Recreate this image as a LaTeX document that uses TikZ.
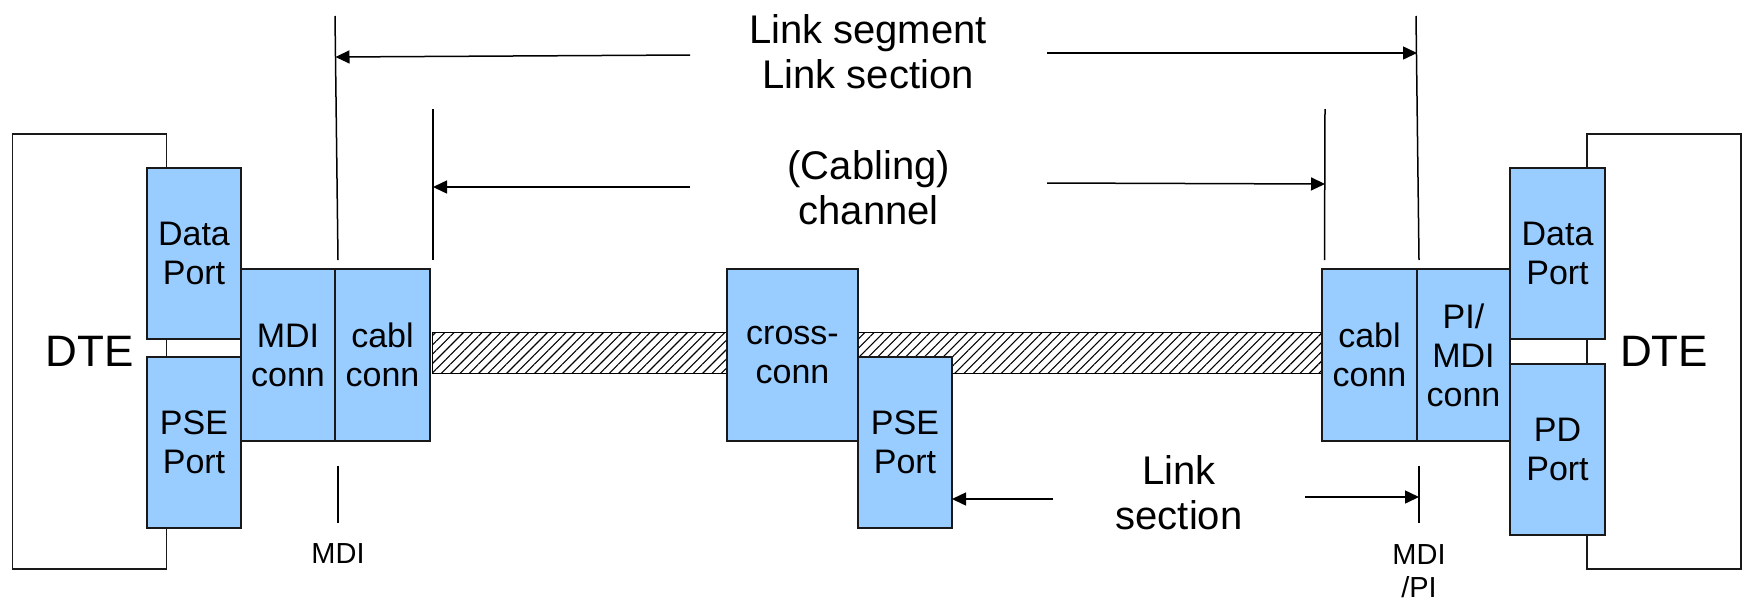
\documentclass[tikz,border=0pt]{standalone}
\usepackage{fontspec}
\setmainfont{Liberation Sans}
\usetikzlibrary{arrows.meta,patterns.meta}
\definecolor{boxblue}{HTML}{99CCFF}
\begin{document}
\begin{tikzpicture}[x=1pt,y=-1pt,
  blk/.style={draw=black!90,line width=1.4pt,fill=boxblue,inner sep=0pt,align=center,font=\fontsize{34}{39}\selectfont},
  dte/.style={draw=black!90,line width=1.4pt,fill=white,inner sep=0pt,minimum width=154pt,minimum height=435pt,font=\fontsize{44}{48}\selectfont},
  guide/.style={line width=1.5pt},
  dim/.style={line width=1.5pt,-{Triangle[length=14pt,width=13pt]}},
  band/.style={draw=black,line width=1pt,pattern={Lines[angle=45,distance=6.6pt,line width=1.1pt]}},
  biglbl/.style={align=center,inner sep=0pt,font=\fontsize{40}{45}\selectfont},
  smlbl/.style={align=center,inner sep=0pt,font=\fontsize{29}{33}\selectfont}]
\useasboundingbox (0,0) rectangle (1745,600);

% DTE boxes
\node[dte] (dteL) at (89.5,351.5) {DTE};
\node[dte] (dteR) at (1664,351.5) {DTE};

% cable band
\coordinate (bandA) at (432.7,332.7);
\coordinate (bandB) at (1322,373);
\draw[band] (bandA) rectangle (bandB);

% blue blocks
\node[blk,minimum width=94pt,minimum height=171pt] (dpL) at (194,253.5) {Data\\Port};
\node[blk,minimum width=94pt,minimum height=171pt] (pseL) at (194,442.5) {PSE\\Port};
\node[blk,minimum width=94pt,minimum height=172pt] (mdiL) at (288,355) {MDI\\conn};
\node[blk,minimum width=95pt,minimum height=172pt] (cabL) at (382.5,355) {cabl\\conn};
\node[blk,minimum width=131pt,minimum height=172pt] (xc) at (792.5,355) {cross-\\conn};
\node[blk,minimum width=94pt,minimum height=171pt] (pseM) at (905,442.5) {PSE\\Port};
\node[blk,minimum width=95pt,minimum height=172pt] (cabR) at (1369.5,355) {cabl\\conn};
\node[blk,minimum width=93pt,minimum height=172pt] (mdiR) at (1463.5,355) {PI/\\MDI\\conn};
\node[blk,minimum width=95pt,minimum height=171pt] (dpR) at (1557.5,253.5) {Data\\Port};
\node[blk,minimum width=95pt,minimum height=171pt] (pdR) at (1557.5,449.5) {PD\\Port};

% guide lines
\coordinate (g1t) at (335,16);     \coordinate (g1b) at (338,260);
\coordinate (g2t) at (433,109);    \coordinate (g2b) at (433,260);
\coordinate (g3t) at (1325,109);   \coordinate (g3b) at (1324.5,260);
\coordinate (g4t) at (1416,16);    \coordinate (g4b) at (1419,260);
\coordinate (m1t) at (338,466);    \coordinate (m1b) at (338,523);
\coordinate (m2t) at (1419,466);   \coordinate (m2b) at (1419,523);
\draw[guide] (g1t) -- (g1b);
\draw[guide] (g2t) -- (g2b);
\draw[guide] (g3t) -- (g3b);
\draw[guide] (g4t) -- (g4b);
\draw[guide] (m1t) -- (m1b);
\draw[guide] (m2t) -- (m2b);

% labels
\node[biglbl] (lseg) at (868,51.3) {Link segment\\Link section};
\node[biglbl] (chan) at (868.7,187.8) {(Cabling)\\channel};
\node[biglbl] (lsec) at (1179,493) {Link\\section};
\node[smlbl] (mdil) at (338,553.6) {MDI};
\node[smlbl] (mdir) at (1419,571) {MDI\\/PI};

% dimension arrows
\coordinate (a1s) at (690,55);   \coordinate (a1e) at (335.5,57);
\coordinate (a2s) at (1047,53);  \coordinate (a2e) at (1417,53);
\coordinate (a3s) at (690,187);  \coordinate (a3e) at (433,187);
\coordinate (a4s) at (1047,183); \coordinate (a4e) at (1325,184);
\coordinate (a5s) at (1053,499); \coordinate (a5e) at (952,499);
\coordinate (a6s) at (1305,497); \coordinate (a6e) at (1419,497);
\draw[dim] (a1s) -- (a1e);
\draw[dim] (a2s) -- (a2e);
\draw[dim] (a3s) -- (a3e);
\draw[dim] (a4s) -- (a4e);
\draw[dim] (a5s) -- (a5e);
\draw[dim] (a6s) -- (a6e);
\end{tikzpicture}
\end{document}
